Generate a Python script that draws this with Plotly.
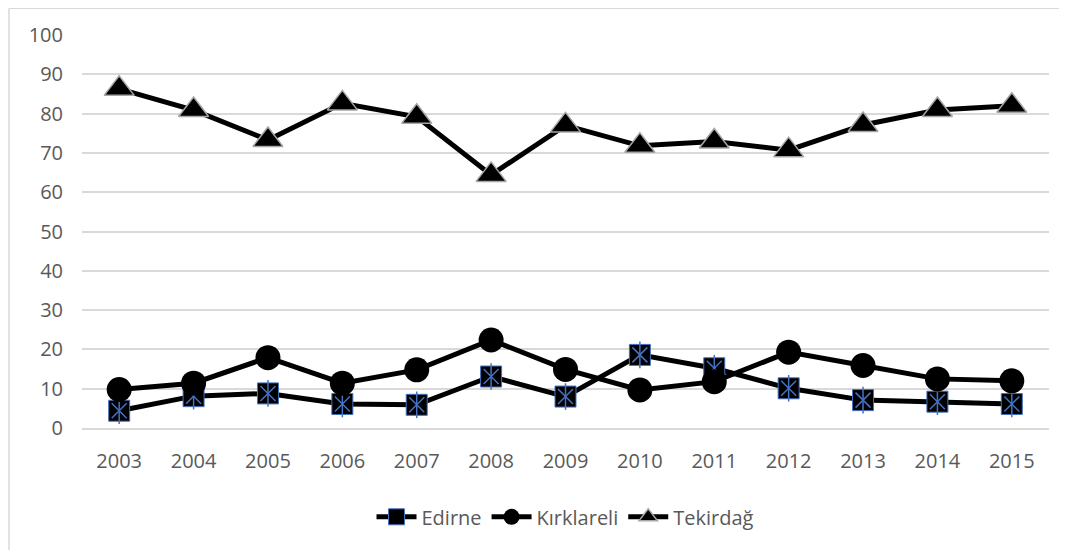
import plotly.graph_objects as go

years = ["2003", "2004", "2005", "2006", "2007", "2008", "2009", "2010", "2011", "2012", "2013", "2014", "2015"]
edirne = [4.4, 8.1, 8.8, 6.1, 5.9, 13.1, 8.0, 18.6, 15.2, 10.1, 7.1, 6.7, 6.1]
kirklareli = [9.8, 11.4, 17.9, 11.4, 14.8, 22.4, 14.9, 9.7, 11.8, 19.3, 15.9, 12.5, 12.0]
tekirdag = [86.3, 80.9, 73.3, 82.6, 79.2, 64.4, 77.0, 71.8, 72.9, 70.7, 77.1, 80.9, 82.0]
y_ticks = [0, 10, 20, 30, 40, 50, 60, 70, 80, 90, 100]

BLUE = "#4472C4"
FONT = "Open Sans"
TXT = "#595959"

fig = go.Figure()

# Edirne: black square with blue asterisk (x + vertical line)
fig.add_trace(go.Scatter(
    x=years, y=edirne, name="Edirne", mode="lines+markers",
    line=dict(color="black", width=5),
    marker=dict(symbol="square", size=21, color="black", line=dict(color=BLUE, width=1)),
    legendgroup="ed",
))
fig.add_trace(go.Scatter(
    x=years, y=edirne, mode="markers", showlegend=False, hoverinfo="skip",
    marker=dict(symbol="x-thin-open", size=15, color=BLUE, line=dict(color=BLUE, width=1.5)),
    legendgroup="ed",
))
fig.add_trace(go.Scatter(
    x=years, y=edirne, mode="markers", showlegend=False, hoverinfo="skip",
    marker=dict(symbol="line-ns-open", size=19, color=BLUE, line=dict(color=BLUE, width=1.5)),
    legendgroup="ed",
))

fig.add_trace(go.Scatter(
    x=years, y=kirklareli, name="Kırklareli", mode="lines+markers",
    line=dict(color="black", width=5),
    marker=dict(symbol="circle", size=25, color="black", line=dict(color="black", width=0)),
))

fig.add_trace(go.Scatter(
    x=years, y=tekirdag, name="Tekirdağ", mode="lines+markers",
    line=dict(color="black", width=5),
    marker=dict(symbol="triangle-up", size=26, color="black", line=dict(color="#a6a6a6", width=1.5)),
))

# chart frame (left and top edges visible)
fig.add_shape(type="line", xref="paper", yref="paper", x0=-0.0755, x1=-0.0755, y0=1.068, y1=-0.32,
              line=dict(color="#d9d9d9", width=1.5))
fig.add_shape(type="line", xref="paper", yref="paper", x0=-0.0755, x1=1.03, y0=1.068, y1=1.068,
              line=dict(color="#d9d9d9", width=1.5))

fig.update_layout(
    width=1059, height=542,
    margin=dict(l=74, r=18, t=27, b=122),
    paper_bgcolor="white", plot_bgcolor="white",
    font=dict(family=FONT, size=20, color=TXT),
    showlegend=True,
    legend=dict(orientation="h", x=0.5, xanchor="center", y=-0.226, yanchor="middle",
                font=dict(family=FONT, size=20, color=TXT), traceorder="normal",
                itemwidth=40),
    xaxis=dict(type="category", range=[-0.5, 12.5], showgrid=False,
               showline=True, linecolor="#d9d9d9", linewidth=1.5,
               ticks="", ticklabelstandoff=14,
               tickfont=dict(family=FONT, size=20, color=TXT), fixedrange=True),
    yaxis=dict(range=[0, 100], tickvals=y_ticks, showgrid=True, gridcolor="#d9d9d9", gridwidth=1.5,
               showline=False, zeroline=False, ticks="", ticklabelstandoff=18,
               tickfont=dict(family=FONT, size=20, color=TXT), fixedrange=True),
)

fig.write_html("out.html")
